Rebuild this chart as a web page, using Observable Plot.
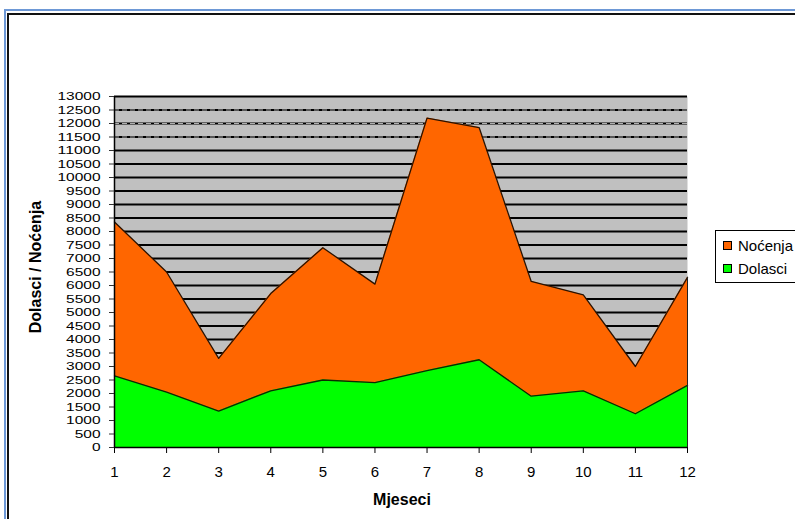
<!DOCTYPE html>
<html>
<head>
<meta charset="utf-8">
<script src="https://cdn.jsdelivr.net/npm/d3@7"></script>
<script src="https://cdn.jsdelivr.net/npm/@observablehq/plot@0.6"></script>
<style>
  html, body { margin: 0; padding: 0; background: #fff; }
  #root { position: relative; width: 795px; height: 519px; overflow: hidden; font-family: "Liberation Sans", Arial, sans-serif; }
  .frameBlue { position: absolute; left: 4px; top: 9px; width: 900px; height: 700px; border-left: 2px solid #6d98d6; border-top: 2px solid #6d98d6; }
  .frameBlack { position: absolute; left: 7px; top: 13px; width: 900px; height: 700px; border-left: 2px solid #111; border-top: 2px solid #111; }
  #chart { position: absolute; left: 0; top: 0; }
  .ytitle { position: absolute; left: 36px; top: 267px; transform: translate(-50%, -50%) rotate(-90deg); font-weight: bold; font-size: 16px; white-space: nowrap; color: #000; }
  .xtitle { position: absolute; left: 402px; top: 500px; transform: translate(-50%, -50%); font-weight: bold; font-size: 16px; color: #000; }
  .legend { position: absolute; left: 715px; top: 230px; width: 100px; height: 51px; border: 1px solid #000; background: #fff; }
  .item { position: absolute; left: 7px; font-size: 15px; white-space: nowrap; color: #000; }
  .sw { display: inline-block; width: 7px; height: 7px; border: 1px solid #000; margin-right: 6px; vertical-align: 1px; }
</style>
</head>
<body>
<div id="root">
  <div class="frameBlue"></div>
  <div class="frameBlack"></div>
  <div id="chart"></div>
  <div class="ytitle">Dolasci / Noćenja</div>
  <div class="xtitle">Mjeseci</div>
  <div class="legend" id="legend"></div>
</div>
<script>
const months = [1, 2, 3, 4, 5, 6, 7, 8, 9, 10, 11, 12];
const nocenja = [8350, 6500, 3300, 5700, 7400, 6050, 12200, 11850, 6150, 5650, 3000, 6300];
const dolasci = [2650, 2050, 1350, 2100, 2500, 2400, 2850, 3250, 1900, 2100, 1250, 2300];
const yTicks = d3.range(0, 13001, 500);
const seriesNames = ["Noćenja", "Dolasci"];
const seriesColors = ["#ff6600", "#00ff00"];

const rows = months.map((m, i) => ({m, n: nocenja[i], d: dolasci[i]}));

const chart = Plot.plot({
  width: 795,
  height: 519,
  marginLeft: 114,
  marginRight: 108,
  marginTop: 96,
  marginBottom: 72,
  style: {fontFamily: "'Liberation Sans', Arial, sans-serif", fontSize: "15px", color: "#000", background: "transparent", overflow: "visible"},
  x: {domain: [1, 12], label: null},
  y: {domain: [0, 13000], label: null},
  marks: [
    Plot.frame({fill: "#c0c0c0"}),
    Plot.ruleY(yTicks.filter(d => d > 0), {stroke: "#000", strokeWidth: 2}),
    Plot.ruleY([11500, 12000, 12500], {stroke: "#ddd", strokeWidth: 0.8, strokeDasharray: "5,3"}),
    Plot.areaY(rows, {x: "m", y: "n", fill: seriesColors[0]}),
    Plot.lineY(rows, {x: "m", y: "n", stroke: "#2a1200", strokeWidth: 1.3}),
    Plot.areaY(rows, {x: "m", y: "d", fill: seriesColors[1]}),
    Plot.lineY(rows, {x: "m", y: "d", stroke: "#0b2a00", strokeWidth: 1.3}),
    Plot.ruleX([1], {stroke: "#000", strokeWidth: 1.5}),
    Plot.ruleX([12], {y1: 0, y2: 6300, stroke: "#222", strokeWidth: 1}),
    Plot.ruleY([0], {stroke: "#000", strokeWidth: 1.5}),
    Plot.axisY({ticks: yTicks, tickFormat: d => String(d), tickSize: 5, tickPadding: 9, fontSize: 11.5, stroke: "#333"}),
    Plot.axisX({ticks: months, tickFormat: d => String(d), tickSize: 6, tickPadding: 13, fontSize: 15})
  ]
});
document.getElementById("chart").appendChild(chart);

// widen the tightly packed y tick labels horizontally (as in the reference) without growing their height
d3.select(chart).selectAll('g[aria-label="y-axis tick label"] text').each(function() {
  const t = this.textContent || "";
  this.setAttribute("textLength", String(t.length * 8.6));
  this.setAttribute("lengthAdjust", "spacingAndGlyphs");
});

const legend = document.getElementById("legend");
seriesNames.forEach((name, i) => {
  const div = document.createElement("div");
  div.className = "item";
  div.style.top = (i === 0 ? 6 : 29) + "px";
  const sw = document.createElement("span");
  sw.className = "sw";
  sw.style.background = seriesColors[i];
  div.appendChild(sw);
  div.appendChild(document.createTextNode(name));
  legend.appendChild(div);
});
</script>
</body>
</html>
